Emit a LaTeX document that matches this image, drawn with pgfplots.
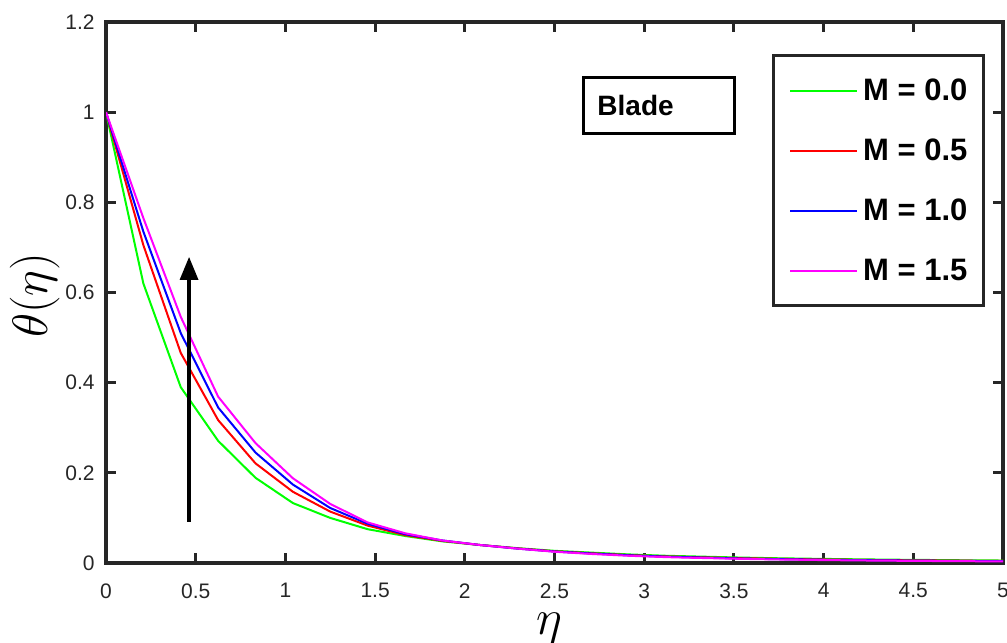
\documentclass[border=0pt]{standalone}
\usepackage{fontspec}
\setmainfont{Liberation Sans}
\usepackage{pgfplots}
\pgfplotsset{compat=1.18}
\usepackage{pgfplotstable}
\usetikzlibrary{arrows.meta}
\definecolor{axgray}{RGB}{38,38,38}
\definecolor{cg}{RGB}{0,255,0}
\definecolor{cr}{RGB}{255,0,0}
\definecolor{cb}{RGB}{0,0,255}
\definecolor{cm}{RGB}{255,0,255}

% theta(eta) for M = 0.0, 0.5, 1.0, 1.5
\pgfplotstableread{
eta     g       r       b       m
0       1       1       1       1
0.2083  0.620   0.705   0.735   0.765
0.4167  0.390   0.466   0.510   0.546
0.6250  0.271   0.317   0.345   0.369
0.8333  0.189   0.221   0.245   0.266
1.0417  0.133   0.158   0.174   0.188
1.2500  0.100   0.114   0.122   0.131
1.4583  0.075   0.083   0.087   0.090
1.6667  0.060   0.062   0.064   0.066
1.8750  0.048   0.049   0.050   0.050
2.0833  0.040   0.040   0.040   0.040
2.2917  0.033   0.0325  0.032   0.032
2.5000  0.027   0.026   0.0255  0.025
2.7083  0.023   0.0215  0.021   0.020
2.9167  0.019   0.0175  0.017   0.016
3.1250  0.016   0.0145  0.014   0.013
3.3333  0.014   0.0125  0.012   0.011
3.5417  0.012   0.0106  0.0098  0.0092
3.7500  0.0105  0.0092  0.0085  0.0078
3.9583  0.0093  0.0080  0.0074  0.0067
4.1667  0.0083  0.0071  0.0065  0.0058
4.3750  0.0074  0.0063  0.0057  0.0051
4.5833  0.0067  0.0057  0.0051  0.0045
4.7917  0.0060  0.0051  0.0046  0.0040
5.0000  0.0055  0.0046  0.0041  0.0036
}\thetadata

\begin{document}
\begin{tikzpicture}
\begin{axis}[
    name=ax,
    width=448.5pt, height=270.5pt, scale only axis,
    xmin=0, xmax=5, ymin=0, ymax=1.2,
    xtick={0,0.5,1,1.5,2,2.5,3,3.5,4,4.5,5},
    ytick={0,0.2,0.4,0.6,0.8,1,1.2},
    axis line style={line width=2pt, color=axgray},
    tick style={line width=1.5pt, color=axgray},
    major tick length=5pt,
    tick align=inside,
    /pgf/number format/assume math mode=true,
    tick label style={font=\fontsize{10.5}{12}\selectfont, text=axgray},
    xticklabel style={inner sep=0pt, yshift=-10pt},
    yticklabel style={inner sep=0pt, xshift=-5.5pt},
    xlabel={$\eta$},
    ylabel={$\theta(\eta)$},
    label style={font=\fontsize{24}{26}\selectfont},
    xlabel style={at={(axis description cs:0.494,-0.0924)}, anchor=north, inner sep=0pt},
    ylabel style={at={(axis description cs:-0.079,0.495)}, anchor=center},
    legend cell align=left,
    legend image code/.code={\draw[#1, line width=1pt] (0pt,0pt) -- (33.5pt,0pt);},
    legend style={
        at={(0.98,0.941)}, anchor=north east,
        draw=axgray, line width=1.6pt, fill=white,
        inner xsep=8pt, inner ysep=12.5pt, row sep=20pt,
        font=\fontsize{15.5}{17}\selectfont\bfseries,
        nodes={inner sep=0pt, text height=10pt, text depth=0pt},
        /tikz/every odd column/.append style={column sep=2.5pt},
        /tikz/every even column/.append style={column sep=2.5pt}
    }
]
\addplot[color=cg, line width=1pt] table[x=eta, y=g] {\thetadata};
\addplot[color=cr, line width=1pt] table[x=eta, y=r] {\thetadata};
\addplot[color=cb, line width=1pt] table[x=eta, y=b] {\thetadata};
\addplot[color=cm, line width=1pt] table[x=eta, y=m] {\thetadata};
\legend{M = 0.0, M = 0.5, M = 1.0, M = 1.5}

\node[draw=black, line width=1.5pt, anchor=north west, fill=white,
      inner xsep=7pt, inner ysep=0pt, minimum height=28pt,
      text width=61.5pt, align=left, font=\fontsize{14}{16}\selectfont\bfseries]
      at (axis cs:2.653,1.0803) {Blade};

\draw[-{Triangle[length=11.5pt,width=9pt]}, line width=1.6pt]
    (axis cs:0.463,0.091) -- (axis cs:0.463,0.679);
\end{axis}
\pgfresetboundingbox
\path[use as bounding box] ([xshift=-53pt,yshift=-39.5pt]ax.south west)
    rectangle ([xshift=2pt,yshift=11pt]ax.north east);
\end{tikzpicture}
\end{document}
